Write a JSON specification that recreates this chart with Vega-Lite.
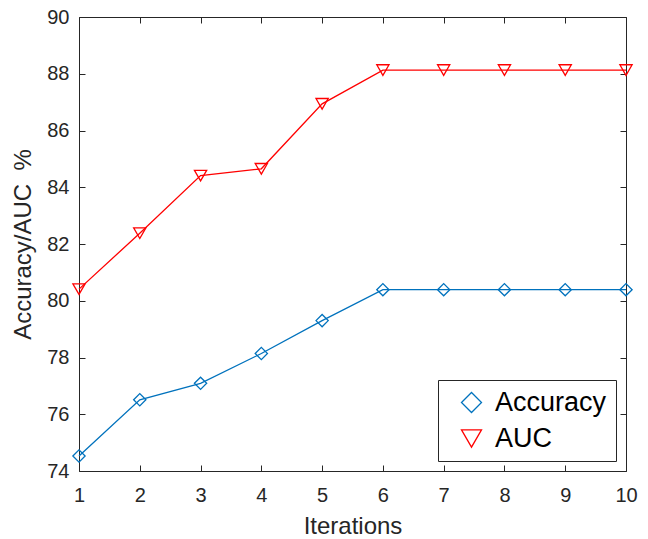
{
  "$schema": "https://vega.github.io/schema/vega-lite/v6.json",
  "width": 547,
  "height": 454,
  "autosize": "none",
  "padding": {"left": 79, "top": 17, "right": 22, "bottom": 68},
  "background": "white",
  "config": {
    "font": "Liberation Sans",
    "view": {"stroke": "#262626", "strokeWidth": 1},
    "axis": {
      "grid": false,
      "domain": false,
      "tickColor": "#262626",
      "tickSize": -6,
      "tickWidth": 1,
      "labelFlush": false,
      "labelOverlap": false,
      "labelFont": "Liberation Sans",
      "labelFontSize": 20,
      "labelColor": "#262626",
      "titleFont": "Liberation Sans",
      "titleFontSize": 24,
      "titleFontWeight": "normal",
      "titleColor": "#262626"
    }
  },
  "data": {
    "values": [
      {"iter": 1, "series": "Accuracy", "value": 74.53},
      {"iter": 2, "series": "Accuracy", "value": 76.51},
      {"iter": 3, "series": "Accuracy", "value": 77.09},
      {"iter": 4, "series": "Accuracy", "value": 78.14},
      {"iter": 5, "series": "Accuracy", "value": 79.3},
      {"iter": 6, "series": "Accuracy", "value": 80.39},
      {"iter": 7, "series": "Accuracy", "value": 80.39},
      {"iter": 8, "series": "Accuracy", "value": 80.39},
      {"iter": 9, "series": "Accuracy", "value": 80.39},
      {"iter": 10, "series": "Accuracy", "value": 80.39},
      {"iter": 1, "series": "AUC", "value": 80.41},
      {"iter": 2, "series": "AUC", "value": 82.38},
      {"iter": 3, "series": "AUC", "value": 84.41},
      {"iter": 4, "series": "AUC", "value": 84.65},
      {"iter": 5, "series": "AUC", "value": 86.94},
      {"iter": 6, "series": "AUC", "value": 88.13},
      {"iter": 7, "series": "AUC", "value": 88.13},
      {"iter": 8, "series": "AUC", "value": 88.13},
      {"iter": 9, "series": "AUC", "value": 88.13},
      {"iter": 10, "series": "AUC", "value": 88.13}
    ]
  },
  "layer": [
    {
      "mark": {"type": "line", "strokeWidth": 1.3},
      "encoding": {
        "x": {
          "field": "iter", "type": "quantitative",
          "scale": {"domain": [1, 10], "nice": false, "zero": false},
          "axis": {"orient": "bottom", "values": [1,2,3,4,5,6,7,8,9,10], "title": "Iterations", "labelPadding": 20, "titlePadding": 9}
        },
        "y": {
          "field": "value", "type": "quantitative",
          "scale": {"domain": [74, 90], "nice": false, "zero": false},
          "axis": {"orient": "left", "values": [74,76,78,80,82,84,86,88,90], "title": "Accuracy/AUC\u00a0\u00a0%", "labelPadding": 16, "titlePadding": 11}
        },
        "color": {
          "field": "series", "type": "nominal",
          "scale": {"domain": ["Accuracy", "AUC"], "range": ["#0072BD", "#FF0000"]}
        }
      }
    },
    {
      "mark": {"type": "point", "filled": false, "strokeWidth": 1.3, "size": 150, "opacity": 1},
      "encoding": {
        "x": {
          "field": "iter", "type": "quantitative",
          "axis": {"orient": "top", "values": [1,2,3,4,5,6,7,8,9,10], "labels": false, "title": null}
        },
        "y": {
          "field": "value", "type": "quantitative",
          "axis": {"orient": "right", "values": [74,76,78,80,82,84,86,88,90], "labels": false, "title": null}
        },
        "color": {
          "field": "series", "type": "nominal",
          "legend": {
            "title": null,
            "orient": "none",
            "legendX": 359,
            "legendY": 363,
            "fillColor": "white",
            "strokeColor": "#262626",
            "padding": 9,
            "symbolSize": 400,
            "symbolStrokeWidth": 1.3,
            "symbolOffset": 11,
            "labelOffset": 10,
            "labelFont": "Liberation Sans",
            "labelFontSize": 27,
            "labelColor": "black",
            "rowPadding": 8
          }
        },
        "shape": {
          "field": "series", "type": "nominal",
          "scale": {"domain": ["Accuracy", "AUC"], "range": ["diamond", "triangle-down"]},
          "legend": null
        }
      }
    }
  ],
  "resolve": {"axis": {"x": "independent", "y": "independent"}}
}
